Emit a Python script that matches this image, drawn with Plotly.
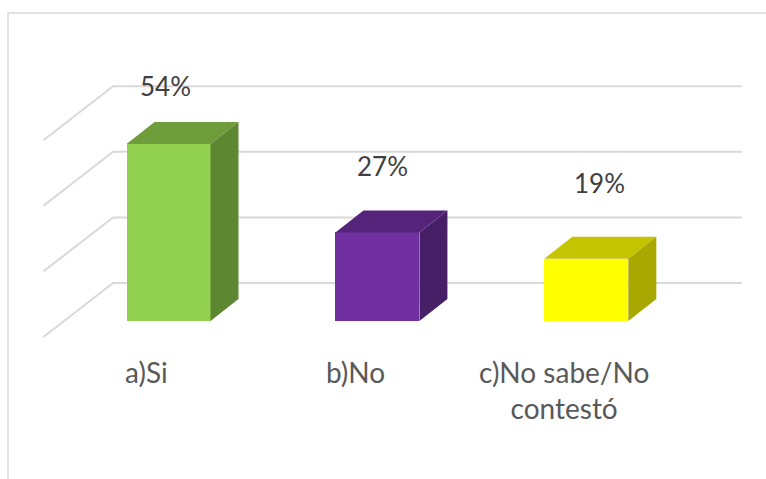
import plotly.graph_objects as go

# ---- data ----
categories = ["a)Si", "b)No", "c)No sabe/No<br>contestó"]
values = [54, 27, 19]
value_labels = ["54%", "27%", "19%"]
grid_ticks = [0, 20, 40, 60]

front_colors = ["#92D050", "#7030A0", "#FFFF00"]
top_colors = ["#6F9D3C", "#55247A", "#C4C400"]
side_colors = ["#5E8732", "#471F66", "#A8A800"]

# ---- 3D projection constants (in axis units) ----
BAR_W = 0.402                 # bar front width (category units)
BAR_DX, BAR_DY = 0.134, 6.7   # bar depth offset
WALL_FRONT = (-0.0986, -4.88)  # floor front edge offset
WALL_BACK = (0.2346, 11.59)    # back wall offset
X_LEFT, X_RIGHT = -0.5, 2.51

fig = go.Figure()

# gridlines on side wall + back wall
shapes = []
for t in grid_ticks:
    x0, y0 = X_LEFT + WALL_FRONT[0], t + WALL_FRONT[1]
    x1, y1 = X_LEFT + WALL_BACK[0], t + WALL_BACK[1]
    x2 = X_RIGHT + WALL_BACK[0]
    shapes.append(dict(type="path", xref="x", yref="y", layer="below",
                       path=f"M{x0},{y0} L{x1},{y1} L{x2},{y1}",
                       line=dict(color="#D9D9D9", width=2)))

# chart frame
shapes.append(dict(type="rect", xref="paper", yref="paper", layer="below",
                   x0=8 / 766, x1=1.02, y0=-0.02, y1=1 - 13 / 479,
                   line=dict(color="#D9D9D9", width=1.5)))

idx = list(range(len(values)))

# front faces
fig.add_trace(go.Bar(x=idx, y=values, width=BAR_W,
                     marker=dict(color=front_colors, line=dict(width=0)),
                     hoverinfo="skip", showlegend=False))

# top and side faces
for i, v in enumerate(values):
    l, r = i - BAR_W / 2, i + BAR_W / 2
    fig.add_trace(go.Scatter(
        x=[l, r, r + BAR_DX, l + BAR_DX, l],
        y=[v, v, v + BAR_DY, v + BAR_DY, v],
        mode="lines", fill="toself", fillcolor=top_colors[i],
        line=dict(width=0, color=top_colors[i]), hoverinfo="skip", showlegend=False))
    fig.add_trace(go.Scatter(
        x=[r, r, r + BAR_DX, r + BAR_DX, r],
        y=[0, v, v + BAR_DY, BAR_DY, 0],
        mode="lines", fill="toself", fillcolor=side_colors[i],
        line=dict(width=0, color=side_colors[i]), hoverinfo="skip", showlegend=False))

annotations = []
# value labels (with perspective drift)
for i, v in enumerate(values):
    annotations.append(dict(x=i - 0.015 + 0.039 * i, y=v + 17.6 + 2.75 * i,
                            text=value_labels[i], showarrow=False,
                            xanchor="center", yanchor="middle",
                            font=dict(family="Lato", size=26, color="#404040")))
# category labels at floor front edge
for i, c in enumerate(categories):
    annotations.append(dict(x=i + WALL_FRONT[0] - 0.008, y=WALL_FRONT[1] - 5.0,
                            text=c, showarrow=False,
                            xanchor="center", yanchor="top",
                            font=dict(family="Lato", size=28, color="#595959")))

fig.update_layout(
    width=766, height=479,
    margin=dict(l=0, r=0, t=0, b=0),
    paper_bgcolor="white", plot_bgcolor="white",
    xaxis=dict(range=[-0.8066, 2.860], visible=False, fixedrange=True),
    yaxis=dict(range=[-48.17, 97.87], visible=False, fixedrange=True),
    shapes=shapes, annotations=annotations,
    bargap=0,
)

fig.write_html("out.html",
               config={"displayModeBar": False, "staticPlot": True},
               post_script="document.body.style.margin='0';document.body.style.overflow='hidden';")
